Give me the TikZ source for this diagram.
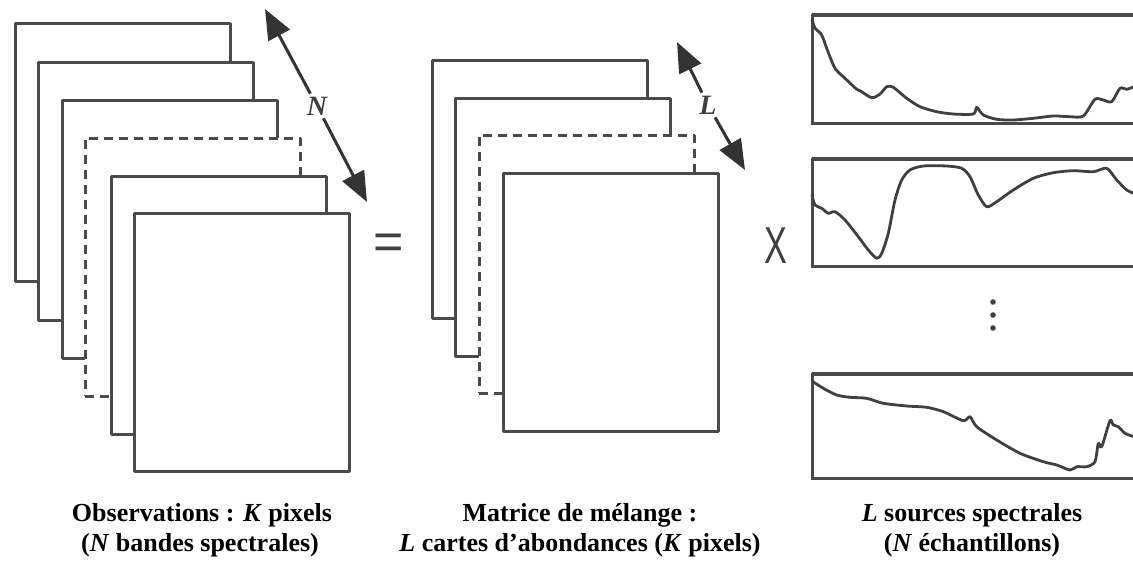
\documentclass[tikz,border=0pt]{standalone}
\usepackage{fontspec}
\setmainfont{Liberation Serif}
\newfontfamily\symfont{Liberation Sans}
\usetikzlibrary{arrows.meta}
\definecolor{linec}{HTML}{4a4a4a}
\definecolor{curvec}{HTML}{404040}
\begin{document}
\begin{tikzpicture}[x=1pt,y=-1pt,
  sheet/.style={draw=linec, fill=white, line width=3pt, line join=round,
    minimum width=215pt, minimum height=258pt, anchor=north west, inner sep=0pt, outer sep=0pt},
  dsheet/.style={sheet, dash pattern=on 9pt off 6pt},
  frame/.style={draw=linec, line width=3pt},
  topedge/.style={draw=linec, line width=4.5pt},
  spcurve/.style={draw=curvec, line width=2.8pt, line join=round, line cap=round},
  dimarrow/.style={-{Triangle[length=30pt,width=24pt]}, line width=3pt, draw=black!80},
  dimlabel/.style={font=\fontsize{28}{28}\selectfont\bfseries\itshape, text=black!75, inner sep=3pt},
  captext/.style={font=\fontsize{26}{30}\selectfont\bfseries, inner sep=0pt},
  opsign/.style={font=\symfont\fontsize{52}{52}\selectfont, text=black!75, inner sep=0pt}
]
\useasboundingbox (0,0) rectangle (1133,560);
\clip (0,0) rectangle (1133,560);
\fill[white] (0,0) rectangle (1133,560);

% observations stack
\node[sheet]  (o1) at (15,23) {};
\node[sheet]  (o2) at (38,62) {};
\node[sheet]  (o3) at (62,100) {};
\node[dsheet] (o4) at (85,138) {};
\node[sheet]  (o5) at (111,176) {};
\node[sheet]  (o6) at (134,213) {};

% N arrow
\coordinate (Ntop) at (265,9);
\coordinate (Nbot) at (367,202);
\node[dimlabel] (Nlab) at (317,106) {N};
\draw[dimarrow] (Nlab) -- (Ntop);
\draw[dimarrow] (Nlab) -- (Nbot);

% equal sign
\node[opsign] (eq) at (389,247) {=};

% mixing matrix stack
\node[sheet]  (m1) at (432,60) {};
\node[sheet]  (m2) at (455,98) {};
\node[dsheet] (m3) at (479,135) {};
\node[sheet]  (m4) at (503,173) {};

% L arrow
\coordinate (Ltop) at (677,42);
\coordinate (Lbot) at (745,170);
\node[dimlabel] (Llab) at (708,105) {L};
\draw[dimarrow] (Llab) -- (Ltop);
\draw[dimarrow] (Llab) -- (Lbot);

% times sign
\node[opsign] (times) at (776,246) {\scalebox{0.66}[1]{X}};

% spectra frames
\draw[frame] (1145,15) -- (812,15) -- (812,123) -- (1145,123);
\draw[frame] (1145,159) -- (812,159) -- (812,266) -- (1145,266);
\draw[frame] (1145,374) -- (812,374) -- (812,478) -- (1145,478);
\draw[topedge] (812,15) -- (1145,15);
\draw[topedge] (812,159) -- (1145,159);
\draw[topedge] (812,374) -- (1145,374);

% spectrum 1
\draw[spcurve] plot[smooth, tension=0.45] coordinates {
 (812,20) (815,28) (821.7,35) (826.7,48.3) (835,68.3) (845,78.3) (856.7,89.3)
 (860,90.7) (871.7,97.7) (880,94) (886.7,86.7) (893.3,87.3) (906.7,98.3)
 (920,106.7) (936.7,111.7) (953.3,114) (973.3,114) (976.7,107.3) (983.3,115)
 (996.7,119.3) (1013.3,120) (1033.3,118.3) (1053.3,116) (1070,116.7) (1083.3,116)
 (1095,99.3) (1103.3,100) (1111.7,101.7) (1120,88.3) (1126.7,89.3) (1134,86.7)};

% spectrum 2
\draw[spcurve] plot[smooth, tension=0.45] coordinates {
 (812,195) (815,205) (821.7,208.3) (828.3,213.3) (835,211.7) (845,220)
 (858.3,236.7) (868.3,250) (876.7,258.3) (881.7,253.3) (888.3,233.3) (895,200)
 (901.7,180) (910,170) (923.3,166) (946.7,166) (961.7,168.3) (970,176.7)
 (978.3,195) (986.7,206.7) (996.7,201.7) (1013.3,190) (1033.3,178.3)
 (1053.3,172.7) (1073.3,170.7) (1093.3,171.7) (1106.7,168.3) (1116.7,180)
 (1126.7,190) (1134,193.3)};

% spectrum 3
\draw[spcurve] plot[smooth, tension=0.45] coordinates {
 (813,381.7) (823.3,388.3) (836.7,395) (850,397.3) (866.7,398.3) (883.3,403.3)
 (906.7,406) (926.7,407.3) (943.3,411.7) (963.3,420.7) (970,416.7) (976.7,426.7)
 (996.7,440) (1020,453.3) (1043.3,461.7) (1056.7,465) (1070,470) (1076.7,466.7)
 (1086.7,466.7) (1095,461.7) (1098.3,443.3) (1101.7,446.7) (1110,420.7)
 (1113.3,425) (1118.3,426.7) (1125,433.3) (1134,436.7)};

% vertical dots
\fill[curvec] (993,302) circle (2.8pt);
\fill[curvec] (993,315) circle (2.8pt);
\fill[curvec] (993,328) circle (2.8pt);

% captions
\node[captext, anchor=base] (c1a) at (202,521) {Observations : \textit{K} pixels};
\node[captext, anchor=base] (c1b) at (200,551) {(\textit{N} bandes spectrales)};
\node[captext, anchor=base] (c2a) at (580,521) {Matrice de mélange :};
\node[captext, anchor=base] (c2b) at (580,551) {\textit{L} cartes d’abondances (\textit{K} pixels)};
\node[captext, anchor=base] (c3a) at (972,521) {\textit{L} sources spectrales};
\node[captext, anchor=base] (c3b) at (972,551) {(\textit{N} échantillons)};
\end{tikzpicture}
\end{document}
